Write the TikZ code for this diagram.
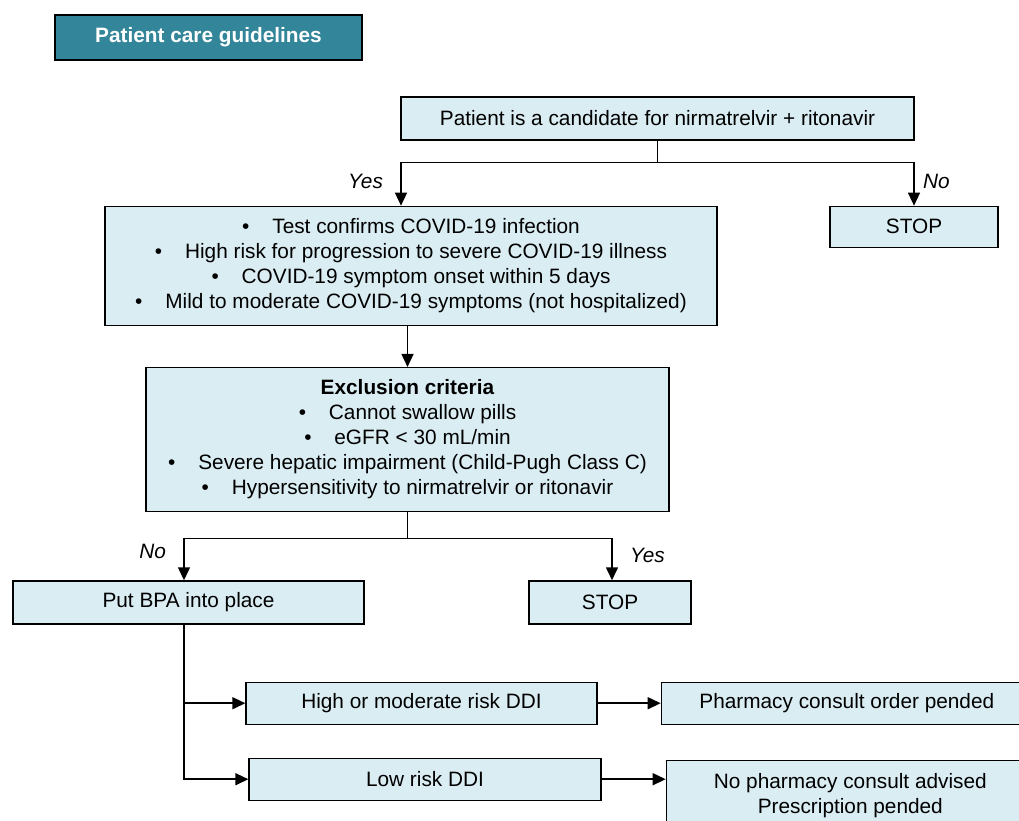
\documentclass[tikz,border=0pt]{standalone}
\usepackage{fontspec}
\setmainfont{Liberation Sans}
\usetikzlibrary{positioning,arrows.meta}
\definecolor{boxblue}{HTML}{DAEDF3}
\definecolor{headteal}{HTML}{338699}

\begin{document}
\begin{tikzpicture}[
x=1pt, y=1pt,
>={Triangle[length=13pt,width=12pt]},
every node/.style={font=\fontsize{20.8}{25}\selectfont},
box/.style={
draw,
line width=1.3pt,
fill=boxblue,
align=center,
inner sep=0pt,
minimum height=42pt
},
arrow/.style={->,line width=1.5pt},
ans/.style={font=\fontsize{20.8}{25}\selectfont\itshape}
]
\useasboundingbox (0,0) rectangle (1019,-820);
\clip (0,0) rectangle (1019,-820);

% Header
\node[draw, line width=1.3pt, fill=headteal, text=white, minimum width=307pt, minimum height=45pt,
  font=\fontsize{20.8}{25}\selectfont\bfseries] (title) at (208.5,-37.5) {Patient care guidelines};

% Candidate
\node[box, minimum width=513pt, minimum height=43pt] (cand) at (657.5,-118.5)
{Patient is a candidate for nirmatrelvir + ritonavir};

% Inclusion
\node[box, minimum width=612pt, minimum height=119pt, below=65pt of cand, xshift=-246.5pt] (crit)
{\textbullet\hspace{1.1em}Test confirms COVID-19 infection\\
\textbullet\hspace{1.1em}High risk for progression to severe COVID-19 illness\\
\textbullet\hspace{1.1em}COVID-19 symptom onset within 5 days\\
\textbullet\hspace{1.1em}Mild to moderate COVID-19 symptoms (not hospitalized)};

\node[box, minimum width=168pt, minimum height=41pt, below=65pt of cand, xshift=256.5pt] (stop1)
{STOP};

% Exclusion
\node[box, minimum width=523pt, minimum height=144pt, below=41pt of crit, xshift=-3.5pt] (excl)
{\textbf{Exclusion criteria}\\
\textbullet\hspace{1.1em}Cannot swallow pills\\
\textbullet\hspace{1.1em}eGFR < 30 mL/min\\
\textbullet\hspace{1.1em}Severe hepatic impairment (Child-Pugh Class C)\\
\textbullet\hspace{1.1em}Hypersensitivity to nirmatrelvir or ritonavir};

% BPA
\node[box, minimum width=351pt, minimum height=43pt, below=68pt of excl, xshift=-219pt] (bpa)
{Put BPA into place};

\node[box, minimum width=162pt, minimum height=43pt, below=68pt of excl, xshift=202.5pt] (stop2)
{STOP};

% DDI
\node[box, minimum width=351pt, below=57pt of bpa, xshift=233pt] (high)
{High or moderate risk DDI};

\node[box, minimum width=352pt, below=133pt of bpa, xshift=236.5pt] (low)
{Low risk DDI};

\node[box, minimum width=371pt, right=63pt of high] (pharm)
{Pharmacy consult order pended};

\node[box, minimum width=368pt, minimum height=70pt, right=64pt of low, yshift=-16pt] (nopharm)
{No pharmacy consult advised\\Prescription pended};

% Arrows
\coordinate[below=22pt of cand.south] (fork1);
\draw[line width=1.5pt] (cand.south)--(fork1);
\draw[arrow] (fork1) -| node[ans, pos=0.72, left=14pt] {Yes} ([xshift=-10pt]crit.north);
\draw[arrow] (fork1) -| node[ans, pos=0.72, right=5pt] {No} (stop1.north);

\draw[arrow] (crit.south -| excl.north)--(excl.north);

\coordinate[below=26pt of excl.south] (fork2);
\draw[line width=1.5pt] (excl.south)--(fork2);
\draw[arrow] (fork2) -| node[ans, pos=0.66, left=14pt] {No} ([xshift=-4.5pt]bpa.north);
\draw[arrow] (fork2) -| node[ans, pos=0.7, right=14pt] {Yes} ([xshift=2pt]stop2.north);

\draw[arrow] ([xshift=-4.5pt]bpa.south) |- (high.west);
\draw[arrow] ([xshift=-4.5pt]bpa.south) |- (low.west);

\draw[arrow] (high)--(pharm);
\draw[arrow] (low.east)--(low.east -| nopharm.west);

\end{tikzpicture}
\end{document}
